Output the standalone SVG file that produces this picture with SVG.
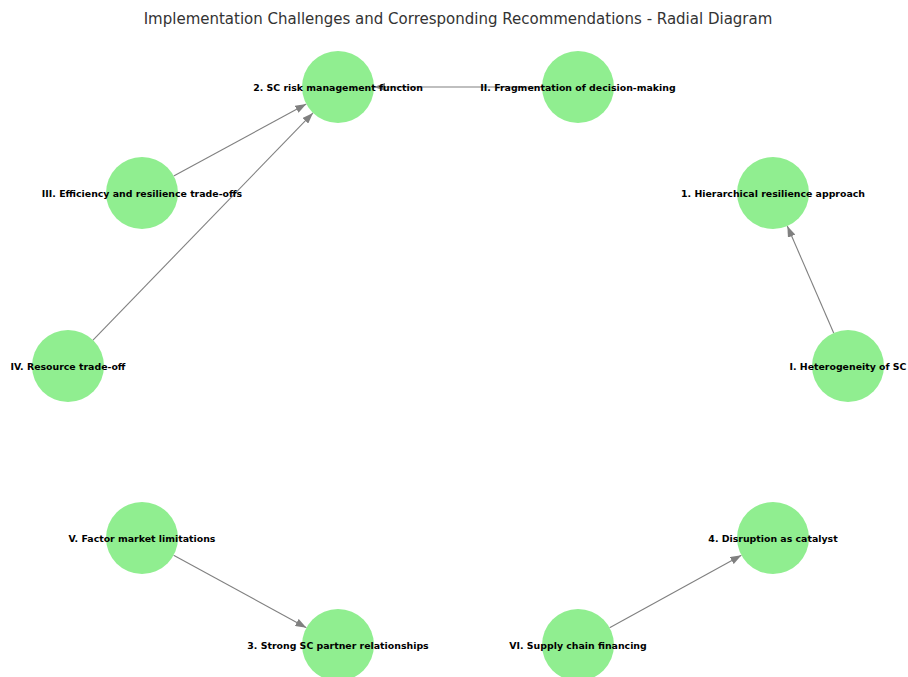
<svg xmlns="http://www.w3.org/2000/svg" width="908" height="677" viewBox="0 0 908 677">
  <style>
    .title { font-family: "DejaVu Sans", "Liberation Sans", sans-serif; font-size: 15px; fill: #333; text-anchor: middle; }
    .node circle { fill: #90ee90; }
    .node text { font-family: "DejaVu Sans", "Liberation Sans", sans-serif; font-size: 9.4px; font-weight: bold; fill: #000; text-anchor: middle; dominant-baseline: central; }
    .edge { stroke: #808080; stroke-width: 1.1; fill: none; marker-end: url(#arrow); }
  </style>
  <defs>
    <marker id="arrow" viewBox="0 0 11 8" refX="11" refY="4" markerWidth="11" markerHeight="8" markerUnits="userSpaceOnUse" orient="auto">
      <path d="M0,0 L11,4 L0,8 Z" fill="#808080"/>
    </marker>
  </defs>
  <rect width="908" height="677" fill="#fff"/>
  <text class="title" x="458" y="23.5">Implementation Challenges and Corresponding Recommendations - Radial Diagram</text>

  <g id="connectors">
    <line class="edge" x1="542" y1="87" x2="374" y2="87"/>
    <line class="edge" x1="173.7" y1="175.9" x2="306.3" y2="104.1"/>
    <line class="edge" x1="93" y1="340.1" x2="313" y2="112.9"/>
    <line class="edge" x1="833.7" y1="333" x2="787.3" y2="226"/>
    <line class="edge" x1="173.6" y1="555.3" x2="306.4" y2="627.7"/>
    <line class="edge" x1="609.6" y1="627.7" x2="741.4" y2="555.3"/>
  </g>

  <g id="node-rec2" class="node"><circle cx="338" cy="87" r="36"/><text x="338" y="87">2. SC risk management function</text></g>
  <g id="node-chII" class="node"><circle cx="578" cy="87" r="36"/><text x="578" y="87">II. Fragmentation of decision-making</text></g>
  <g id="node-chIII" class="node"><circle cx="142" cy="193" r="36"/><text x="142" y="193">III. Efficiency and resilience trade-offs</text></g>
  <g id="node-rec1" class="node"><circle cx="773" cy="193" r="36"/><text x="773" y="193">1. Hierarchical resilience approach</text></g>
  <g id="node-chIV" class="node"><circle cx="68" cy="366" r="36"/><text x="68" y="366">IV. Resource trade-off</text></g>
  <g id="node-chI" class="node"><circle cx="848" cy="366" r="36"/><text x="848" y="366">I. Heterogeneity of SC</text></g>
  <g id="node-chV" class="node"><circle cx="142" cy="538" r="36"/><text x="142" y="538">V. Factor market limitations</text></g>
  <g id="node-rec4" class="node"><circle cx="773" cy="538" r="36"/><text x="773" y="538">4. Disruption as catalyst</text></g>
  <g id="node-rec3" class="node"><circle cx="338" cy="645" r="36"/><text x="338" y="645">3. Strong SC partner relationships</text></g>
  <g id="node-chVI" class="node"><circle cx="578" cy="645" r="36"/><text x="578" y="645">VI. Supply chain financing</text></g>
</svg>
